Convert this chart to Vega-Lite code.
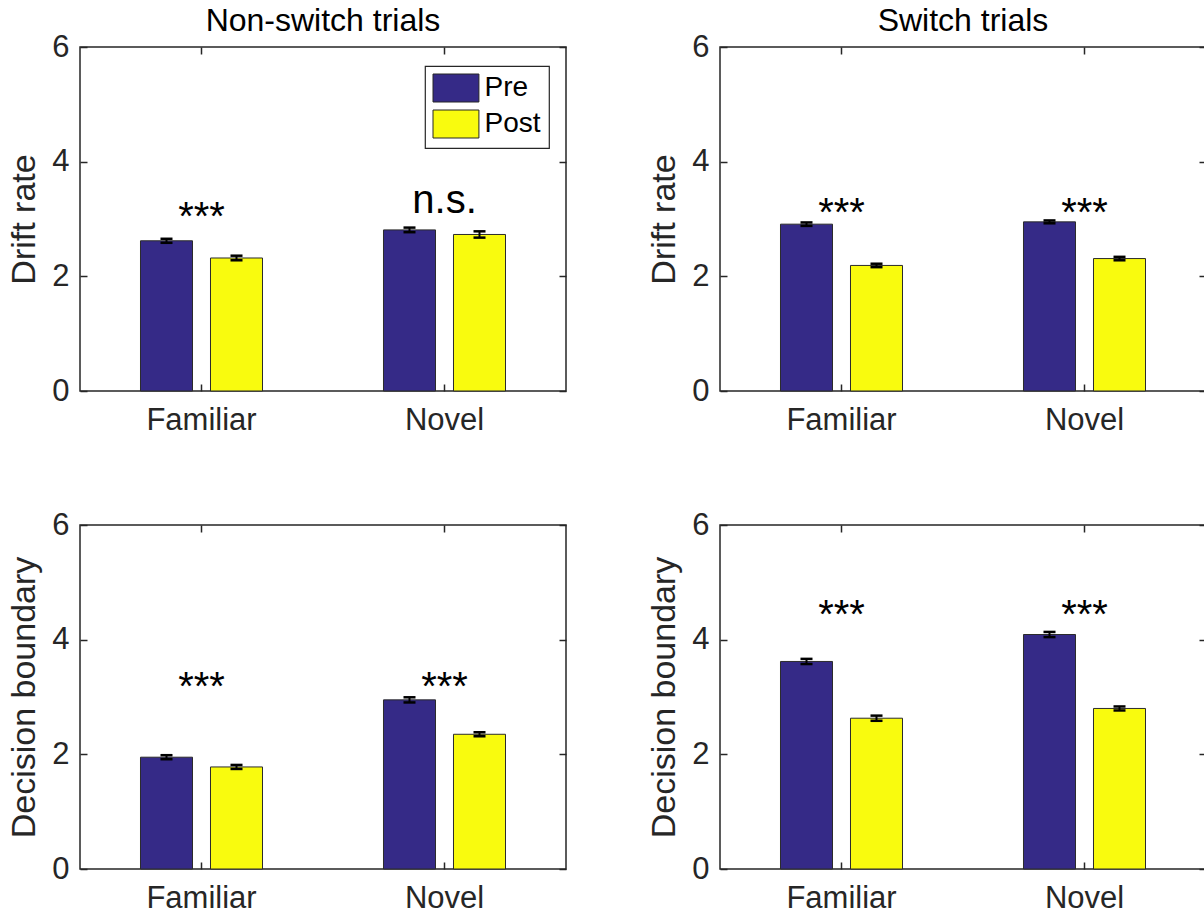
{
  "$schema": "https://vega.github.io/schema/vega-lite/v6.json",
  "background": "white",
  "padding": {"left": 7, "top": 4, "right": 0, "bottom": 0},
  "config": {
    "font": "Liberation Sans",
    "view": {"stroke": "#262626", "strokeWidth": 1.5},
    "axis": {
      "labelFont": "Liberation Sans",
      "titleFont": "Liberation Sans",
      "labelColor": "#262626",
      "titleColor": "#262626",
      "tickColor": "#262626",
      "tickWidth": 1.5,
      "domain": false,
      "grid": false,
      "labelFontSize": 31,
      "titleFontSize": 34,
      "titleFontWeight": "normal"
    },
    "legend": {
      "orient": "none",
      "legendX": 345,
      "legendY": 19,
      "direction": "vertical",
      "symbolType": "M-1,-1H2.28V1H-1Z",
      "symbolSize": 784,
      "symbolStrokeColor": "#262626",
      "symbolStrokeWidth": 1,
      "labelFont": "Liberation Sans",
      "labelFontSize": 28,
      "labelColor": "black",
      "labelOffset": 23,
      "rowPadding": 3,
      "padding": 7.5,
      "strokeColor": "#262626",
      "strokeWidth": 1.2,
      "fillColor": "white"
    }
  },
  "datasets": {
    "bars": [
      {"panel": "p1", "cond": "Familiar", "phase": "Pre", "value": 2.62, "lo": 2.585, "hi": 2.655},
      {"panel": "p1", "cond": "Familiar", "phase": "Post", "value": 2.32, "lo": 2.28, "hi": 2.36},
      {"panel": "p1", "cond": "Novel", "phase": "Pre", "value": 2.81, "lo": 2.77, "hi": 2.85},
      {"panel": "p1", "cond": "Novel", "phase": "Post", "value": 2.73, "lo": 2.675, "hi": 2.785},
      {"panel": "p2", "cond": "Familiar", "phase": "Pre", "value": 2.91, "lo": 2.88, "hi": 2.94},
      {"panel": "p2", "cond": "Familiar", "phase": "Post", "value": 2.19, "lo": 2.16, "hi": 2.22},
      {"panel": "p2", "cond": "Novel", "phase": "Pre", "value": 2.95, "lo": 2.925, "hi": 2.975},
      {"panel": "p2", "cond": "Novel", "phase": "Post", "value": 2.31, "lo": 2.28, "hi": 2.34},
      {"panel": "p3", "cond": "Familiar", "phase": "Pre", "value": 1.95, "lo": 1.915, "hi": 1.985},
      {"panel": "p3", "cond": "Familiar", "phase": "Post", "value": 1.78, "lo": 1.745, "hi": 1.815},
      {"panel": "p3", "cond": "Novel", "phase": "Pre", "value": 2.95, "lo": 2.905, "hi": 2.995},
      {"panel": "p3", "cond": "Novel", "phase": "Post", "value": 2.35, "lo": 2.315, "hi": 2.385},
      {"panel": "p4", "cond": "Familiar", "phase": "Pre", "value": 3.62, "lo": 3.575, "hi": 3.665},
      {"panel": "p4", "cond": "Familiar", "phase": "Post", "value": 2.63, "lo": 2.585, "hi": 2.675},
      {"panel": "p4", "cond": "Novel", "phase": "Pre", "value": 4.09, "lo": 4.045, "hi": 4.135},
      {"panel": "p4", "cond": "Novel", "phase": "Post", "value": 2.8, "lo": 2.765, "hi": 2.835}
    ],
    "sig": [
      {"panel": "p1", "cond": "Familiar", "label": "***", "y": 2.81},
      {"panel": "p1", "cond": "Novel", "label": "n.s.", "y": 3.1},
      {"panel": "p2", "cond": "Familiar", "label": "***", "y": 2.87},
      {"panel": "p2", "cond": "Novel", "label": "***", "y": 2.87},
      {"panel": "p3", "cond": "Familiar", "label": "***", "y": 2.95},
      {"panel": "p3", "cond": "Novel", "label": "***", "y": 2.95},
      {"panel": "p4", "cond": "Familiar", "label": "***", "y": 4.21},
      {"panel": "p4", "cond": "Novel", "label": "***", "y": 4.21}
    ]
  },
  "columns": 2,
  "spacing": {"row": 134, "column": 154},
  "bounds": "flush",
  "concat": [
    {
      "width": 486, "height": 344,
      "title": {"text": "Non-switch trials", "fontSize": 32, "fontWeight": "normal", "color": "black", "baseline": "alphabetic", "offset": -32, "anchor": "middle"},
      "resolve": {"axis": {"x": "independent", "y": "independent"}},
      "layer": [
        {
          "data": {"name": "bars"},
          "transform": [{"filter": "datum.panel === 'p1'"}],
          "mark": {"type": "bar", "stroke": "#2b2b2b", "strokeWidth": 1},
          "encoding": {
            "x": {"field": "cond", "type": "nominal", "scale": {"domain": ["Familiar", "Novel"], "paddingInner": 0, "paddingOuter": 0}, "axis": {"title": null, "labelAngle": 0, "tickSize": -7, "labelPadding": 21}},
            "xOffset": {"field": "phase", "type": "nominal", "scale": {"domain": ["Pre", "Post"], "paddingInner": 0.257, "paddingOuter": 0.864}},
            "y": {"field": "value", "type": "quantitative", "scale": {"domain": [0, 6], "nice": false}, "axis": {"title": "Drift rate", "values": [0, 2, 4, 6], "tickSize": -7, "labelPadding": 18, "titlePadding": 10}},
            "color": {"field": "phase", "type": "nominal", "scale": {"domain": ["Pre", "Post"], "range": ["#352A87", "#F9FB0E"]}, "legend": {"title": null}}
          }
        },
        {
          "data": {"name": "bars"},
          "transform": [{"filter": "datum.panel === 'p1'"}],
          "mark": {"type": "rule", "color": "black", "strokeWidth": 2},
          "encoding": {
            "x": {"field": "cond", "type": "nominal", "axis": null},
            "xOffset": {"field": "phase", "type": "nominal"},
            "y": {"field": "lo", "type": "quantitative", "axis": null},
            "y2": {"field": "hi"}
          }
        },
        {
          "data": {"name": "bars"},
          "transform": [{"filter": "datum.panel === 'p1'"}],
          "mark": {"type": "tick", "orient": "horizontal", "size": 12, "thickness": 2.5, "color": "black", "opacity": 1},
          "encoding": {
            "x": {"field": "cond", "type": "nominal", "axis": null},
            "xOffset": {"field": "phase", "type": "nominal"},
            "y": {"field": "lo", "type": "quantitative", "axis": null}
          }
        },
        {
          "data": {"name": "bars"},
          "transform": [{"filter": "datum.panel === 'p1'"}],
          "mark": {"type": "tick", "orient": "horizontal", "size": 12, "thickness": 2.5, "color": "black", "opacity": 1},
          "encoding": {
            "x": {"field": "cond", "type": "nominal", "axis": null},
            "xOffset": {"field": "phase", "type": "nominal"},
            "y": {"field": "hi", "type": "quantitative", "axis": null}
          }
        },
        {
          "data": {"name": "sig"},
          "transform": [{"filter": "datum.panel === 'p1'"}],
          "mark": {"type": "text", "fontSize": 40, "baseline": "alphabetic", "align": "center", "color": "black", "font": "Liberation Sans"},
          "encoding": {
            "x": {"field": "cond", "type": "nominal", "axis": {"orient": "top", "labels": false, "title": null, "tickSize": -7}},
            "y": {"field": "y", "type": "quantitative", "axis": {"orient": "right", "labels": false, "title": null, "values": [0, 2, 4, 6], "tickSize": -7}},
            "text": {"field": "label"}
          }
        }
      ]
    },
    {
      "width": 486, "height": 344,
      "title": {"text": "Switch trials", "fontSize": 32, "fontWeight": "normal", "color": "black", "baseline": "alphabetic", "offset": -32, "anchor": "middle"},
      "resolve": {"axis": {"x": "independent", "y": "independent"}},
      "layer": [
        {
          "data": {"name": "bars"},
          "transform": [{"filter": "datum.panel === 'p2'"}],
          "mark": {"type": "bar", "stroke": "#2b2b2b", "strokeWidth": 1},
          "encoding": {
            "x": {"field": "cond", "type": "nominal", "scale": {"domain": ["Familiar", "Novel"], "paddingInner": 0, "paddingOuter": 0}, "axis": {"title": null, "labelAngle": 0, "tickSize": -7, "labelPadding": 21}},
            "xOffset": {"field": "phase", "type": "nominal", "scale": {"domain": ["Pre", "Post"], "paddingInner": 0.257, "paddingOuter": 0.864}},
            "y": {"field": "value", "type": "quantitative", "scale": {"domain": [0, 6], "nice": false}, "axis": {"title": "Drift rate", "values": [0, 2, 4, 6], "tickSize": -7, "labelPadding": 18, "titlePadding": 10}},
            "color": {"field": "phase", "type": "nominal", "scale": {"domain": ["Pre", "Post"], "range": ["#352A87", "#F9FB0E"]}, "legend": {"title": null}}
          }
        },
        {
          "data": {"name": "bars"},
          "transform": [{"filter": "datum.panel === 'p2'"}],
          "mark": {"type": "rule", "color": "black", "strokeWidth": 2},
          "encoding": {
            "x": {"field": "cond", "type": "nominal", "axis": null},
            "xOffset": {"field": "phase", "type": "nominal"},
            "y": {"field": "lo", "type": "quantitative", "axis": null},
            "y2": {"field": "hi"}
          }
        },
        {
          "data": {"name": "bars"},
          "transform": [{"filter": "datum.panel === 'p2'"}],
          "mark": {"type": "tick", "orient": "horizontal", "size": 12, "thickness": 2.5, "color": "black", "opacity": 1},
          "encoding": {
            "x": {"field": "cond", "type": "nominal", "axis": null},
            "xOffset": {"field": "phase", "type": "nominal"},
            "y": {"field": "lo", "type": "quantitative", "axis": null}
          }
        },
        {
          "data": {"name": "bars"},
          "transform": [{"filter": "datum.panel === 'p2'"}],
          "mark": {"type": "tick", "orient": "horizontal", "size": 12, "thickness": 2.5, "color": "black", "opacity": 1},
          "encoding": {
            "x": {"field": "cond", "type": "nominal", "axis": null},
            "xOffset": {"field": "phase", "type": "nominal"},
            "y": {"field": "hi", "type": "quantitative", "axis": null}
          }
        },
        {
          "data": {"name": "sig"},
          "transform": [{"filter": "datum.panel === 'p2'"}],
          "mark": {"type": "text", "fontSize": 40, "baseline": "alphabetic", "align": "center", "color": "black", "font": "Liberation Sans"},
          "encoding": {
            "x": {"field": "cond", "type": "nominal", "axis": {"orient": "top", "labels": false, "title": null, "tickSize": -7}},
            "y": {"field": "y", "type": "quantitative", "axis": {"orient": "right", "labels": false, "title": null, "values": [0, 2, 4, 6], "tickSize": -7}},
            "text": {"field": "label"}
          }
        }
      ]
    },
    {
      "width": 486, "height": 344,
      "resolve": {"axis": {"x": "independent", "y": "independent"}},
      "layer": [
        {
          "data": {"name": "bars"},
          "transform": [{"filter": "datum.panel === 'p3'"}],
          "mark": {"type": "bar", "stroke": "#2b2b2b", "strokeWidth": 1},
          "encoding": {
            "x": {"field": "cond", "type": "nominal", "scale": {"domain": ["Familiar", "Novel"], "paddingInner": 0, "paddingOuter": 0}, "axis": {"title": null, "labelAngle": 0, "tickSize": -7, "labelPadding": 21}},
            "xOffset": {"field": "phase", "type": "nominal", "scale": {"domain": ["Pre", "Post"], "paddingInner": 0.257, "paddingOuter": 0.864}},
            "y": {"field": "value", "type": "quantitative", "scale": {"domain": [0, 6], "nice": false}, "axis": {"title": "Decision boundary", "values": [0, 2, 4, 6], "tickSize": -7, "labelPadding": 18, "titlePadding": 10}},
            "color": {"field": "phase", "type": "nominal", "scale": {"domain": ["Pre", "Post"], "range": ["#352A87", "#F9FB0E"]}, "legend": {"title": null}}
          }
        },
        {
          "data": {"name": "bars"},
          "transform": [{"filter": "datum.panel === 'p3'"}],
          "mark": {"type": "rule", "color": "black", "strokeWidth": 2},
          "encoding": {
            "x": {"field": "cond", "type": "nominal", "axis": null},
            "xOffset": {"field": "phase", "type": "nominal"},
            "y": {"field": "lo", "type": "quantitative", "axis": null},
            "y2": {"field": "hi"}
          }
        },
        {
          "data": {"name": "bars"},
          "transform": [{"filter": "datum.panel === 'p3'"}],
          "mark": {"type": "tick", "orient": "horizontal", "size": 12, "thickness": 2.5, "color": "black", "opacity": 1},
          "encoding": {
            "x": {"field": "cond", "type": "nominal", "axis": null},
            "xOffset": {"field": "phase", "type": "nominal"},
            "y": {"field": "lo", "type": "quantitative", "axis": null}
          }
        },
        {
          "data": {"name": "bars"},
          "transform": [{"filter": "datum.panel === 'p3'"}],
          "mark": {"type": "tick", "orient": "horizontal", "size": 12, "thickness": 2.5, "color": "black", "opacity": 1},
          "encoding": {
            "x": {"field": "cond", "type": "nominal", "axis": null},
            "xOffset": {"field": "phase", "type": "nominal"},
            "y": {"field": "hi", "type": "quantitative", "axis": null}
          }
        },
        {
          "data": {"name": "sig"},
          "transform": [{"filter": "datum.panel === 'p3'"}],
          "mark": {"type": "text", "fontSize": 40, "baseline": "alphabetic", "align": "center", "color": "black", "font": "Liberation Sans"},
          "encoding": {
            "x": {"field": "cond", "type": "nominal", "axis": {"orient": "top", "labels": false, "title": null, "tickSize": -7}},
            "y": {"field": "y", "type": "quantitative", "axis": {"orient": "right", "labels": false, "title": null, "values": [0, 2, 4, 6], "tickSize": -7}},
            "text": {"field": "label"}
          }
        }
      ]
    },
    {
      "width": 486, "height": 344,
      "resolve": {"axis": {"x": "independent", "y": "independent"}},
      "layer": [
        {
          "data": {"name": "bars"},
          "transform": [{"filter": "datum.panel === 'p4'"}],
          "mark": {"type": "bar", "stroke": "#2b2b2b", "strokeWidth": 1},
          "encoding": {
            "x": {"field": "cond", "type": "nominal", "scale": {"domain": ["Familiar", "Novel"], "paddingInner": 0, "paddingOuter": 0}, "axis": {"title": null, "labelAngle": 0, "tickSize": -7, "labelPadding": 21}},
            "xOffset": {"field": "phase", "type": "nominal", "scale": {"domain": ["Pre", "Post"], "paddingInner": 0.257, "paddingOuter": 0.864}},
            "y": {"field": "value", "type": "quantitative", "scale": {"domain": [0, 6], "nice": false}, "axis": {"title": "Decision boundary", "values": [0, 2, 4, 6], "tickSize": -7, "labelPadding": 18, "titlePadding": 10}},
            "color": {"field": "phase", "type": "nominal", "scale": {"domain": ["Pre", "Post"], "range": ["#352A87", "#F9FB0E"]}, "legend": {"title": null}}
          }
        },
        {
          "data": {"name": "bars"},
          "transform": [{"filter": "datum.panel === 'p4'"}],
          "mark": {"type": "rule", "color": "black", "strokeWidth": 2},
          "encoding": {
            "x": {"field": "cond", "type": "nominal", "axis": null},
            "xOffset": {"field": "phase", "type": "nominal"},
            "y": {"field": "lo", "type": "quantitative", "axis": null},
            "y2": {"field": "hi"}
          }
        },
        {
          "data": {"name": "bars"},
          "transform": [{"filter": "datum.panel === 'p4'"}],
          "mark": {"type": "tick", "orient": "horizontal", "size": 12, "thickness": 2.5, "color": "black", "opacity": 1},
          "encoding": {
            "x": {"field": "cond", "type": "nominal", "axis": null},
            "xOffset": {"field": "phase", "type": "nominal"},
            "y": {"field": "lo", "type": "quantitative", "axis": null}
          }
        },
        {
          "data": {"name": "bars"},
          "transform": [{"filter": "datum.panel === 'p4'"}],
          "mark": {"type": "tick", "orient": "horizontal", "size": 12, "thickness": 2.5, "color": "black", "opacity": 1},
          "encoding": {
            "x": {"field": "cond", "type": "nominal", "axis": null},
            "xOffset": {"field": "phase", "type": "nominal"},
            "y": {"field": "hi", "type": "quantitative", "axis": null}
          }
        },
        {
          "data": {"name": "sig"},
          "transform": [{"filter": "datum.panel === 'p4'"}],
          "mark": {"type": "text", "fontSize": 40, "baseline": "alphabetic", "align": "center", "color": "black", "font": "Liberation Sans"},
          "encoding": {
            "x": {"field": "cond", "type": "nominal", "axis": {"orient": "top", "labels": false, "title": null, "tickSize": -7}},
            "y": {"field": "y", "type": "quantitative", "axis": {"orient": "right", "labels": false, "title": null, "values": [0, 2, 4, 6], "tickSize": -7}},
            "text": {"field": "label"}
          }
        }
      ]
    }
  ]
}
